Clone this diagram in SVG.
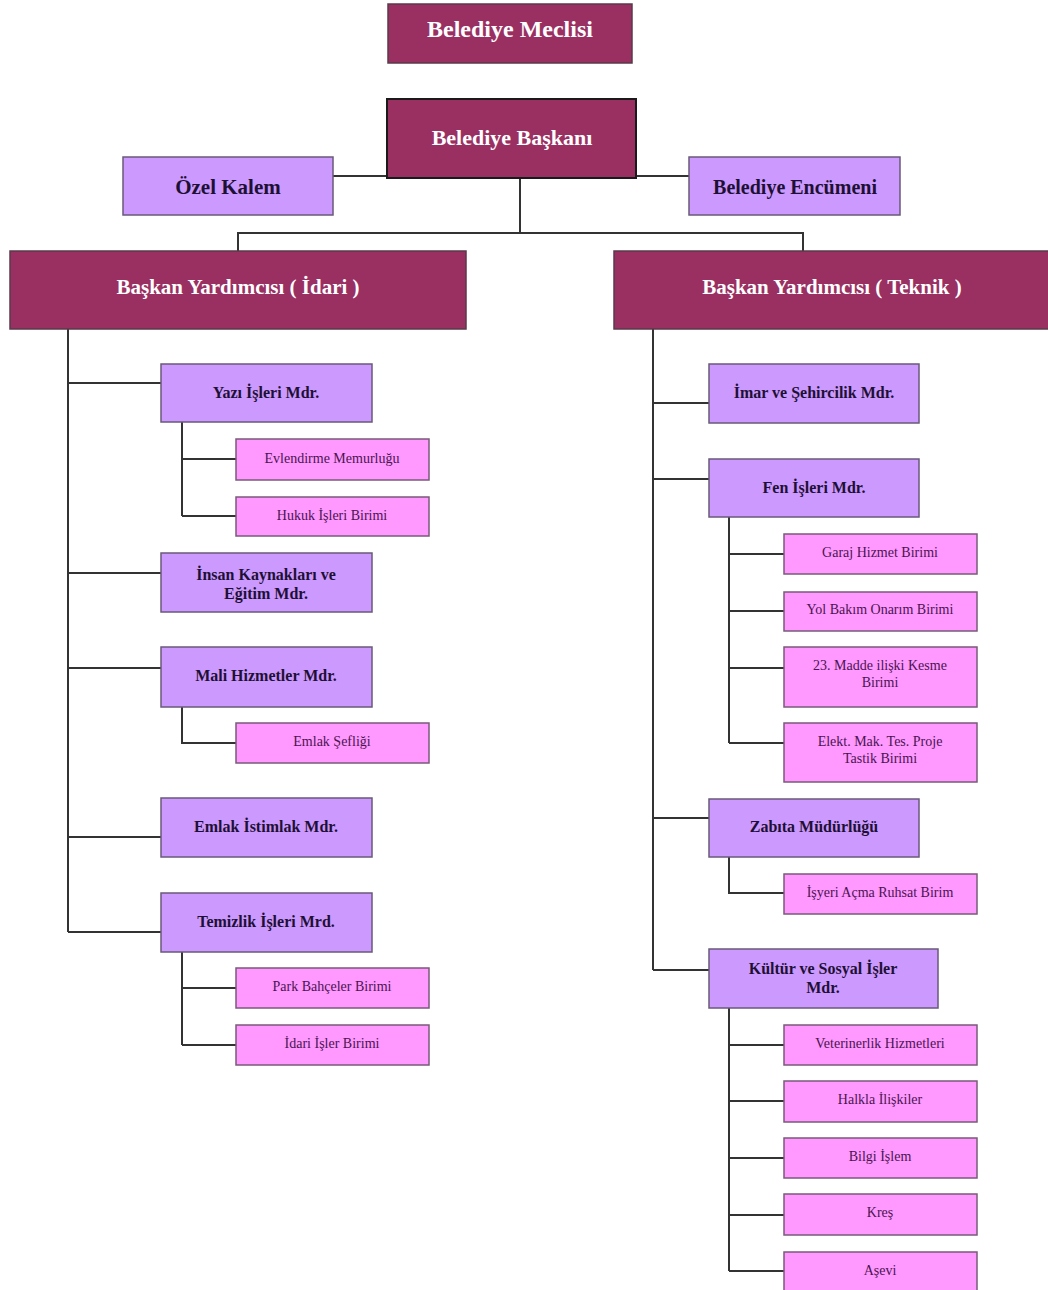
<svg xmlns="http://www.w3.org/2000/svg" width="1048" height="1290" viewBox="0 0 1048 1290">
<style>
.dk{fill:#9a2f62;stroke:#5a3a4a;stroke-width:1.5}
.lp{fill:#cc99ff;stroke:#6a5a7a;stroke-width:1.5}
.pk{fill:#ff99ff;stroke:#7a5a7a;stroke-width:1.5}
.t1{font-family:"Liberation Serif",serif;font-weight:bold;fill:#ffffff;text-anchor:middle}
.t2{font-family:"Liberation Serif",serif;font-weight:bold;fill:#1e1035;text-anchor:middle;font-size:16px}
.t3{font-family:"Liberation Serif",serif;fill:#4a1450;text-anchor:middle;font-size:14px}
.ln{fill:none;stroke:#333333;stroke-width:2}
</style>
<rect width="1048" height="1290" fill="#ffffff"/>
<g id="connectors">
<path class="ln" d="M333 176H387M636 176H689M520 178V233M238 251V233H803V251"/>
<path class="ln" d="M68 329V932M68 383H161M68 573H161M68 668H161M68 837H161M68 932H161"/>
<path class="ln" d="M182 422V516M182 459H236M182 516H236"/>
<path class="ln" d="M182 707V743H236"/>
<path class="ln" d="M182 952V1045M182 988H236M182 1045H236"/>
<path class="ln" d="M653 329V970M653 403H709M653 479H709M653 818H709M653 970H709"/>
<path class="ln" d="M729 517V743M729 554H784M729 611H784M729 668H784M729 743H784"/>
<path class="ln" d="M729 857V893H784"/>
<path class="ln" d="M729 1008V1271M729 1045H784M729 1101H784M729 1158H784M729 1215H784M729 1271H784"/>
</g>
<g id="meclis"><rect class="dk" x="388" y="4" width="244" height="59"/><text class="t1" x="510" y="37" font-size="24">Belediye Meclisi</text></g>
<g id="baskan"><rect class="dk" x="387" y="99" width="249" height="79" style="stroke:#1a1a1a;stroke-width:2"/><text class="t1" x="512" y="145" font-size="22">Belediye Başkanı</text></g>
<g id="ozel"><rect class="lp" x="123" y="157" width="210" height="58"/><text class="t2" x="228" y="194" style="font-size:21px">Özel Kalem</text></g>
<g id="encumen"><rect class="lp" x="689" y="157" width="211" height="58"/><text class="t2" x="795" y="194" style="font-size:20px">Belediye Encümeni</text></g>
<g id="byidari"><rect class="dk" x="10" y="251" width="456" height="78"/><text class="t1" x="238" y="294" font-size="21">Başkan Yardımcısı ( İdari )</text></g>
<g id="byteknik"><rect class="dk" x="614" y="251" width="440" height="78"/><text class="t1" x="832" y="294" font-size="21">Başkan Yardımcısı ( Teknik )</text></g>

<g id="yazi"><rect class="lp" x="161" y="364" width="211" height="58"/><text class="t2" x="266" y="398">Yazı İşleri  Mdr.</text></g>
<g id="evlendirme"><rect class="pk" x="236" y="439" width="193" height="41"/><text class="t3" x="332" y="463">Evlendirme Memurluğu</text></g>
<g id="hukuk"><rect class="pk" x="236" y="497" width="193" height="39"/><text class="t3" x="332" y="520">Hukuk İşleri Birimi</text></g>
<g id="insan"><rect class="lp" x="161" y="553" width="211" height="59"/><text class="t2" x="266" y="580">İnsan Kaynakları ve</text><text class="t2" x="266" y="599">Eğitim  Mdr.</text></g>
<g id="mali"><rect class="lp" x="161" y="647" width="211" height="60"/><text class="t2" x="266" y="681">Mali Hizmetler  Mdr.</text></g>
<g id="emlaksef"><rect class="pk" x="236" y="723" width="193" height="40"/><text class="t3" x="332" y="746">Emlak Şefliği</text></g>
<g id="emlakist"><rect class="lp" x="161" y="798" width="211" height="59"/><text class="t2" x="266" y="832">Emlak İstimlak  Mdr.</text></g>
<g id="temizlik"><rect class="lp" x="161" y="893" width="211" height="59"/><text class="t2" x="266" y="927">Temizlik İşleri  Mrd.</text></g>
<g id="park"><rect class="pk" x="236" y="968" width="193" height="40"/><text class="t3" x="332" y="991">Park Bahçeler Birimi</text></g>
<g id="idariisler"><rect class="pk" x="236" y="1025" width="193" height="40"/><text class="t3" x="332" y="1048">İdari İşler Birimi</text></g>

<g id="imar"><rect class="lp" x="709" y="364" width="210" height="59"/><text class="t2" x="814" y="398">İmar ve Şehircilik  Mdr.</text></g>
<g id="fen"><rect class="lp" x="709" y="459" width="210" height="58"/><text class="t2" x="814" y="493">Fen İşleri Mdr.</text></g>
<g id="garaj"><rect class="pk" x="784" y="534" width="193" height="40"/><text class="t3" x="880" y="557">Garaj  Hizmet Birimi</text></g>
<g id="yol"><rect class="pk" x="784" y="592" width="193" height="39"/><text class="t3" x="880" y="614">Yol Bakım Onarım Birimi</text></g>
<g id="madde"><rect class="pk" x="784" y="647" width="193" height="60"/><text class="t3" x="880" y="670">23. Madde ilişki Kesme</text><text class="t3" x="880" y="687">Birimi</text></g>
<g id="elekt"><rect class="pk" x="784" y="723" width="193" height="59"/><text class="t3" x="880" y="746">Elekt. Mak. Tes. Proje</text><text class="t3" x="880" y="763">Tastik Birimi</text></g>
<g id="zabita"><rect class="lp" x="709" y="799" width="210" height="58"/><text class="t2" x="814" y="832">Zabıta Müdürlüğü</text></g>
<g id="isyeri"><rect class="pk" x="784" y="874" width="193" height="40"/><text class="t3" x="880" y="897">İşyeri Açma Ruhsat Birim</text></g>
<g id="kultur"><rect class="lp" x="709" y="949" width="229" height="59"/><text class="t2" x="823" y="974">Kültür ve Sosyal İşler</text><text class="t2" x="823" y="993">Mdr.</text></g>
<g id="veteriner"><rect class="pk" x="784" y="1025" width="193" height="40"/><text class="t3" x="880" y="1048">Veterinerlik Hizmetleri</text></g>
<g id="halkla"><rect class="pk" x="784" y="1081" width="193" height="41"/><text class="t3" x="880" y="1104">Halkla İlişkiler</text></g>
<g id="bilgi"><rect class="pk" x="784" y="1138" width="193" height="40"/><text class="t3" x="880" y="1161">Bilgi İşlem</text></g>
<g id="kres"><rect class="pk" x="784" y="1194" width="193" height="41"/><text class="t3" x="880" y="1217">Kreş</text></g>
<g id="asevi"><rect class="pk" x="784" y="1252" width="193" height="40"/><text class="t3" x="880" y="1275">Aşevi</text></g>
</svg>
